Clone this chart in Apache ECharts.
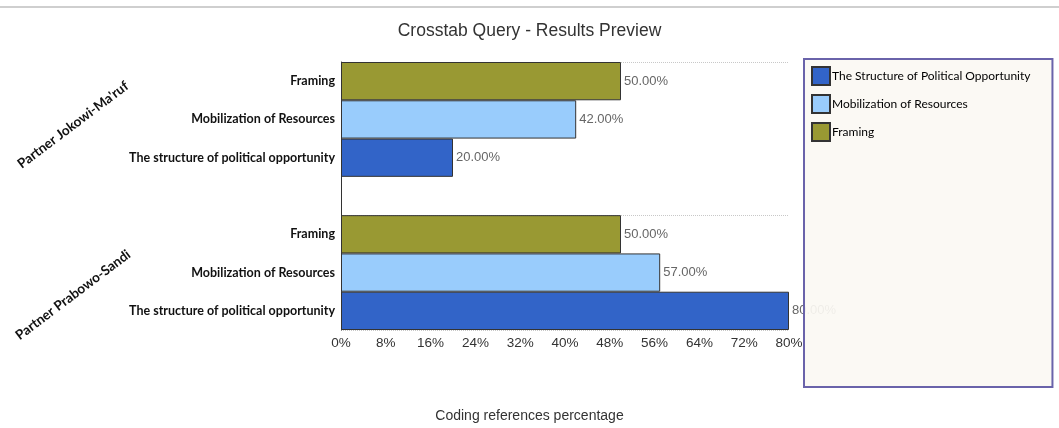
<!DOCTYPE html>
<html><head><meta charset="utf-8">
<script src="https://cdn.jsdelivr.net/npm/echarts@6/dist/echarts.min.js"></script>
<style>html,body{margin:0;padding:0;background:#fff}#c{width:1059px;height:428px}</style>
</head><body><div id="c"></div>
<script>
const title = 'Crosstab Query - Results Preview';
const xAxisName = 'Coding references percentage';
const groups = ["Partner Jokowi-Ma'ruf", 'Partner Prabowo-Sandi'];
const rowThemes = ['Framing', 'Mobilization of Resources', 'The structure of political opportunity'];
const seriesNames = ['The Structure of Political Opportunity', 'Mobilization of Resources', 'Framing'];
// values per group [Jokowi, Prabowo]
const structureVals = [20, 80];
const mobilizationVals = [42, 57];
const framingVals = [50, 50];
const xTicks = { min: 0, max: 80, interval: 8 };

// rows top-to-bottom: group1 (3 themes), spacer, group2 (3 themes)
const rows = [];
groups.forEach((g, gi) => {
  rowThemes.forEach(t => rows.push(g + '|' + t));
  if (gi < groups.length - 1) rows.push(g + '|');
});
function rowData(vals, theme) {
  return rows.map(r => {
    const [g, t] = r.split('|');
    return t === theme ? vals[groups.indexOf(g)] : null;
  });
}
const colors = ['#3264c8', '#99ccfc', '#999933'];
const seriesVals = [structureVals, mobilizationVals, framingVals];
const seriesThemes = [rowThemes[2], rowThemes[1], rowThemes[0]];
const groupStarts = rows.map((r, i) => (i === 0 || r.split('|')[1] === '' ? i + (i === 0 ? 0 : 1) : -1)).filter(i => i >= 0);

const chart = echarts.init(document.getElementById('c'));
chart.setOption({
  backgroundColor: '#fff',
  animation: false,
  title: [
    { text: title, left: 'center', top: 17, textStyle: { fontFamily: 'Liberation Sans, Arial', fontSize: 17.5, fontWeight: 'normal', color: '#333' } },
    { text: xAxisName, left: 'center', top: 404, textStyle: { fontFamily: 'Liberation Sans, Arial', fontSize: 14, fontWeight: 'normal', color: '#333' } }
  ],
  grid: { left: 341, right: 270, top: 62, bottom: 98 },
  legend: {
    data: seriesNames, orient: 'vertical', left: 804, top: 59, icon: 'rect',
    backgroundColor: 'rgba(251,249,243,0.92)', borderColor: '#6a63aa', borderWidth: 2,
    padding: [7, 22, 245, 7], itemWidth: 18, itemHeight: 18, itemGap: 8,
    textStyle: { fontFamily: 'Lato', fontSize: 12, lineHeight: 18, color: '#000', padding: [0, 0, 0, -3] },
    z: 10
  },
  xAxis: {
    type: 'value', min: xTicks.min, max: xTicks.max, interval: xTicks.interval,
    axisLine: { show: false }, axisTick: { show: false }, splitLine: { show: false },
    axisLabel: { formatter: '{value}%', margin: 6, fontFamily: 'Liberation Sans, Arial', fontSize: 13.5, color: '#333' }
  },
  yAxis: {
    type: 'category', inverse: true, data: rows,
    axisLine: { show: true, lineStyle: { color: '#333', width: 1 } },
    axisTick: { show: false },
    splitLine: { show: true, interval: (i) => groupStarts.includes(i), lineStyle: { color: '#c8c8c8', type: 'dotted' } },
    axisLabel: { formatter: v => v.split('|')[1], margin: 6, fontFamily: 'Lato', fontWeight: 'bold', fontSize: 12.5, color: '#111' }
  },
  graphic: [
    { type: 'line', shape: { x1: 0, y1: 7, x2: 1059, y2: 7 }, style: { stroke: '#cfcfcf', lineWidth: 2 } },
    ...groups.map((g, i) => ({
      type: 'text', x: 73, y: i === 0 ? 125 : 295, rotation: 37 * Math.PI / 180,
      style: { text: g, align: 'center', verticalAlign: 'middle', font: 'bold 13.5px Lato', fill: '#111' }
    }))
  ],
  series: seriesNames.map((n, k) => ({
    name: n, type: 'bar', data: rowData(seriesVals[k], seriesThemes[k]),
    barGap: '-100%', barCategoryGap: '0%',
    itemStyle: { color: colors[k], borderColor: '#333', borderWidth: 1 },
    label: { show: true, position: 'right', distance: 3, formatter: p => p.value.toFixed(2) + '%', fontFamily: 'Liberation Sans, Arial', fontSize: 13, color: '#666' }
  }))
});
</script></body></html>
